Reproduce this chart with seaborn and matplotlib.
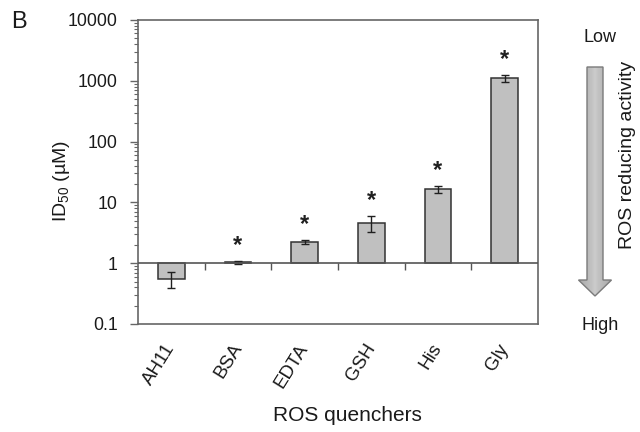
import numpy as np
import matplotlib
matplotlib.use("Agg")
import matplotlib.pyplot as plt
import matplotlib.transforms as mtransforms
import seaborn as sns
from matplotlib.patches import FancyArrow

categories = ["AH11", "BSA", "EDTA", "GSH", "His", "Gly"]
id50_values = [0.56, 1.03, 2.25, 4.6, 16.5, 1100.0]
id50_errors = [0.17, 0.05, 0.15, 1.4, 2.0, 150.0]
significant = [False, True, True, True, True, True]
ytick_values = [0.1, 1, 10, 100, 1000, 10000]
ytick_labels = ["0.1", "1", "10", "100", "1000", "10000"]

sns.set_theme(style="white")
plt.rcParams["font.family"] = ["Liberation Sans", "DejaVu Sans"]
plt.rcParams["mathtext.fontset"] = "custom"
plt.rcParams["mathtext.rm"] = "Liberation Sans"
plt.rcParams["mathtext.it"] = "Liberation Sans:italic"
plt.rcParams["mathtext.bf"] = "Liberation Sans:bold"

fig = plt.figure(figsize=(6.4, 4.32), dpi=100)
ax = fig.add_axes([138 / 640, 1 - 324 / 432, 400 / 640, 304 / 432])

baseline = 1.0
heights = [v - baseline for v in id50_values]
sns.barplot(x=categories, y=heights, bottom=baseline, color="#c0c0c0",
            edgecolor="#333333", linewidth=1.1, width=0.4, saturation=1,
            errorbar=None, ax=ax)
ax.set_yscale("log")
ax.set_ylim(0.1, 10000)
ax.set_xlim(-0.5, len(categories) - 0.5)

xpos = np.arange(len(categories))
ax.errorbar(xpos, id50_values, yerr=id50_errors, fmt="none", ecolor="#202020",
            elinewidth=1.0, capsize=3, capthick=1.0, zorder=3)

for x, v, e, s in zip(xpos, id50_values, id50_errors, significant):
    if s:
        ax.annotate("*", xy=(x, v + e), xytext=(0, 3), textcoords="offset points",
                    ha="center", va="bottom", fontsize=17, fontweight="bold",
                    color="#202020")

ax.axhline(baseline, color="#555555", lw=1.2, zorder=4)
ax.vlines(xpos[:-1] + 0.5, 0.77, baseline, color="#555555", lw=1.0, zorder=4)

for sp in ax.spines.values():
    sp.set_visible(True)
    sp.set_color("#666666")
    sp.set_linewidth(1.2)

ax.set_yticks(ytick_values)
ax.set_yticklabels(ytick_labels)
ax.yaxis.set_minor_locator(matplotlib.ticker.LogLocator(base=10, subs=np.arange(2, 10)))
ax.yaxis.set_minor_formatter(matplotlib.ticker.NullFormatter())
ax.tick_params(axis="y", which="major", direction="out", length=6, width=1,
               color="#666666", left=True, labelsize=12.8, pad=8.5, labelcolor="#1a1a1a")
ax.tick_params(axis="y", which="minor", direction="out", length=3, width=0.8,
               color="#666666", left=True)
ax.set_xticks(xpos)
ax.set_xticklabels(categories, rotation=58, ha="right", rotation_mode="anchor")
ax.tick_params(axis="x", length=0, pad=12, labelsize=13.5, labelcolor="#1a1a1a")
shift = mtransforms.ScaledTranslation(-7 / 100, 0, fig.dpi_scale_trans)
for lbl in ax.get_xticklabels():
    lbl.set_transform(lbl.get_transform() + shift)

ax.set_ylabel("ID$_{50}$ (\u00b5M)", fontsize=14, color="#1a1a1a", va="center")
ax.yaxis.set_label_coords((61 - 138) / 400, (324 - 181) / 304)
ax.set_xlabel("ROS quenchers", fontsize=15, color="#1a1a1a", va="top")
ax.xaxis.set_label_coords((347 - 138) / 400, (324 - 406) / 304)

fig.text(11 / 640, 1 - 22 / 432, "B", fontsize=17, va="center", ha="left", color="#1a1a1a")

W, H = 640, 432
fig.text(600 / W, 1 - 38 / H, "Low", fontsize=13, ha="center", va="center", color="#1a1a1a")
fig.text(600 / W, 1 - 326 / H, "High", fontsize=13, ha="center", va="center", color="#1a1a1a")
ra = fig.text(628 / W, 1 - 155 / H, "ROS reducing activity", fontsize=14, rotation=90,
              ha="center", va="center", color="#1a1a1a")

oax = fig.add_axes([0, 0, 1, 1])
oax.set_xlim(0, W)
oax.set_ylim(H, 0)
oax.axis("off")
arrow = FancyArrow(595, 67, 0, 229, width=16, head_width=33, head_length=16,
                   length_includes_head=True, facecolor="none", edgecolor="#7a7a7a", lw=1.0)
oax.add_patch(arrow)
grad = np.abs(np.linspace(-1, 1, 64))[None, :]
img = oax.imshow(0.80 - 0.14 * grad ** 0.8, cmap="gray", vmin=0, vmax=1,
                 extent=[578, 612, 296, 67], aspect="auto", zorder=1)
img.set_clip_path(arrow)
arrow.set_zorder(2)

fig.savefig("out.png", dpi=100)
